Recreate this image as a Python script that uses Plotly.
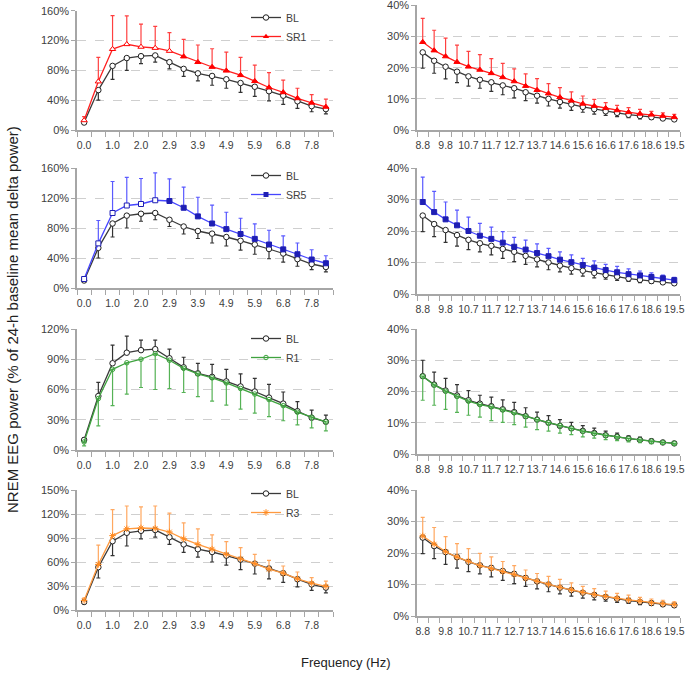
import plotly.graph_objects as go

# ---------------- data ----------------
freq_left = ["0.0", "0.5", "1.0", "1.5", "2.0", "2.4", "2.9", "3.4", "3.9", "4.4",
             "4.9", "5.4", "5.9", "6.3", "6.8", "7.3", "7.8", "8.3"]
freq_right = ["8.8", "9.3", "9.8", "10.3", "10.7", "11.2", "11.7", "12.2", "12.7", "13.2",
              "13.7", "14.2", "14.6", "15.1", "15.6", "16.1", "16.6", "17.1", "17.6", "18.1",
              "18.6", "19.0", "19.5"]

bl_left_mean = [10, 53.5, 86, 96.5, 99, 100, 91, 82, 76, 72.5, 68, 63, 58, 52, 46, 38.5, 32, 28]
bl_left_sem = [2, 13.5, 18, 16.5, 10, 9, 9, 10, 10, 12.5, 12, 12.5, 13, 13, 11.5, 9.5, 7.5, 6.5]
bl_right_mean = [24.9, 22.2, 20.3, 18.7, 17.2, 16.1, 15.3, 14.3, 13.4, 12.1, 11.0, 10.0, 9.0,
                 8.2, 7.4, 6.7, 6.0, 5.5, 4.9, 4.5, 4.1, 3.7, 3.4]
bl_right_sem = [5.1, 4.0, 3.9, 3.5, 3.1, 2.7, 2.9, 3.0, 3.1, 2.7, 2.4, 2.3, 2.0, 1.9, 1.7,
                1.6, 1.3, 1.2, 0.9, 0.9, 0.7, 0.5, 0.5]

sr1_left_mean = [13, 65, 108.5, 115, 111.5, 110, 106, 98.5, 91, 84.5, 79.5, 73.5, 65.5, 57, 50.5, 42.5, 36.5, 31]
sr1_left_sem = [5, 32.5, 45, 38, 30.5, 29, 24.5, 23, 23, 24.5, 25, 24, 21.5, 20, 16.5, 13.5, 11, 10.5]
sr1_left_sig = [False, False, False, False, False, False, False, True, True, True,
                True, True, True, True, True, True, True, True]
sr1_right_mean = [28.2, 25.5, 23.6, 21.8, 20.3, 19.3, 18.2, 16.9, 15.6, 14.1, 12.8, 11.7, 10.5,
                  9.4, 8.4, 7.7, 7.0, 6.3, 5.7, 5.2, 4.9, 4.5, 4.1]
sr1_right_sem = [7.6, 6.5, 5.9, 5.4, 4.9, 4.9, 4.7, 4.5, 4.0, 3.9, 3.7, 3.2, 3.1, 2.8, 2.5,
                 2.1, 1.8, 1.6, 1.5, 1.4, 1.1, 1.0, 0.9]

sr5_left_mean = [12, 59.5, 100, 110, 112, 117, 116, 107, 95.5, 86, 78.5, 72, 65.5, 58, 51.5, 45, 38, 33]
sr5_left_sem = [2.5, 30.5, 42, 37.5, 34, 36.5, 29.5, 27.5, 25.5, 24.5, 22.5, 21, 20, 19, 18, 15, 13, 10]
sr5_left_sig = [False, False, False, False, False, False, True, True, True, True,
                True, True, True, True, True, True, True, True]
sr5_right_mean = [29.2, 26.0, 23.7, 21.8, 20.0, 18.5, 17.5, 16.3, 15.0, 14.1, 13.0, 12.0, 10.9,
                  10.1, 9.2, 8.4, 7.6, 6.9, 6.3, 5.9, 5.4, 5.0, 4.4]
sr5_right_sem = [7.9, 6.6, 5.5, 4.8, 4.4, 3.9, 3.7, 3.5, 3.0, 3.0, 2.9, 2.5, 2.5, 2.3, 2.1,
                 2.1, 1.8, 1.9, 1.7, 1.4, 1.3, 1.0, 0.9]

r1_left_mean = [8, 51, 80, 86.5, 90, 95.5, 89, 81, 75.5, 71.5, 66.5, 61, 55.5, 50, 44, 37.5, 32.5, 28]
r1_left_sem = [4, 27, 36, 31, 28, 35.5, 28, 24, 22.5, 23, 22, 20.5, 19, 17, 15, 12.5, 10.5, 9]
r1_right_mean = [24.9, 22.1, 20.1, 18.4, 16.9, 15.8, 15.1, 14.1, 13.2, 12.1, 11.0, 10.0, 9.1,
                 8.2, 7.3, 6.6, 6.0, 5.5, 4.9, 4.5, 4.1, 3.7, 3.4]
r1_right_sem = [7.7, 6.5, 5.8, 5.1, 4.5, 4.0, 4.4, 4.0, 3.8, 3.5, 3.2, 2.7, 2.4, 2.0, 1.8,
                1.5, 1.4, 1.2, 1.0, 0.9, 0.8, 0.6, 0.5]

r3_left_mean = [12, 57, 93, 101.5, 102.5, 102, 97.5, 89, 82, 76, 69.5, 64, 58, 51, 46, 39, 33.5, 29.5]
r3_left_sem = [3, 24, 32.5, 28.5, 26.5, 28, 23.5, 20, 19.5, 18, 16, 14, 11.5, 11, 9, 8.5, 7, 6.5]
r3_right_mean = [25.4, 22.8, 20.4, 18.7, 17.4, 16.0, 15.1, 14.1, 13.2, 12.0, 11.0, 10.1, 9.1,
                 8.3, 7.5, 6.8, 6.2, 5.6, 5.1, 4.7, 4.2, 3.9, 3.6]
r3_right_sem = [5.9, 5.3, 4.8, 4.3, 4.0, 3.9, 3.7, 3.2, 2.8, 2.6, 2.5, 2.5, 2.5, 2.2, 1.9,
                1.9, 1.7, 1.6, 1.5, 1.2, 1.2, 1.1, 0.9]

# ---------------- styling ----------------
W, H = 685, 674
FONT = "Liberation Sans, Arial, sans-serif"
AX = "#a6a6a6"
GRID = "#cfcfcf"
TXT = "#404040"


def fx(px):  # pixel -> paper fraction (x)
    return min(1.0, max(0.0, px / W))


def fy(py):  # pixel -> paper fraction (y)
    return min(1.0, max(0.0, 1 - py / H))


BL_LINE = "#3a3a3a"
cond_styles = {
    "SR1": dict(line="#ff2020", marker="#ff0000", err="#ff4040", symbol="triangle-up", size=5.5),
    "SR5": dict(line="#4646ff", marker="#1e1eb4", err="#5a5aff", symbol="square", size=5),
    "R1": dict(line="#3fa33f", marker="#3fa33f", err="#55b255", symbol="circle-open", size=4.5),
    "R3": dict(line="#ff9a40", marker="#ff8a20", err="#ffa860", symbol="asterisk-open", size=5.5),
}

# rows: (cond name, left mean, left sem, right mean, right sem, left sig, bl direction,
#        ymax left, dtick left, legend top px)
rows = [
    ("SR1", sr1_left_mean, sr1_left_sem, sr1_right_mean, sr1_right_sem, sr1_left_sig, "down", 160, 40, 3),
    ("SR5", sr5_left_mean, sr5_left_sem, sr5_right_mean, sr5_right_sem, sr5_left_sig, "down", 160, 40, 161),
    ("R1", r1_left_mean, r1_left_sem, r1_right_mean, r1_right_sem, None, "up", 120, 30, 324),
    ("R3", r3_left_mean, r3_left_sem, r3_right_mean, r3_right_sem, None, "down", 150, 30, 479),
]

# panel pixel boxes: (top, bottom) for left and right columns
left_box = [(10.7, 130), (168, 288), (329, 450), (490, 610)]
right_box = [(5.3, 130), (168, 294), (329, 454), (490, 616)]
left_x = (77, 333)
right_x = (417, 680)


def err(sem, direction, color):
    zeros = [0] * len(sem)
    if direction == "up":
        return dict(type="data", symmetric=False, array=sem, arrayminus=zeros,
                    color=color, thickness=1.2, width=2)
    return dict(type="data", symmetric=False, array=zeros, arrayminus=sem,
                color=color, thickness=1.2, width=2)


fig = go.Figure()
layout = {}

for r, (name, lm, ls, rm, rs, sig, bl_dir, ymax, dt, leg_top) in enumerate(rows):
    st = cond_styles[name]
    cond_dir = "up" if bl_dir == "down" else "down"
    legname = "legend" if r == 0 else f"legend{r + 1}"
    for c in range(2):
        p = r * 2 + c + 1
        xa = "x" if p == 1 else f"x{p}"
        ya = "y" if p == 1 else f"y{p}"
        cats = freq_left if c == 0 else freq_right
        xi = list(range(len(cats)))
        blm = bl_left_mean if c == 0 else bl_right_mean
        bls = bl_left_sem if c == 0 else bl_right_sem
        cm = lm if c == 0 else rm
        cs = ls if c == 0 else rs

        # baseline
        fig.add_trace(go.Scatter(
            x=xi, y=blm, name="BL", mode="lines+markers", xaxis=xa, yaxis=ya,
            line=dict(color=BL_LINE, width=1.3),
            marker=dict(symbol="circle", size=5.5, color="white",
                        line=dict(color="#202020", width=1)),
            error_y=err(bls, bl_dir, "#333333"),
            showlegend=(c == 0), legend=legname,
            customdata=cats, hovertemplate="%{customdata} Hz: %{y}%<extra>BL</extra>"))

        # condition
        if "open" in st["symbol"]:
            mk = dict(symbol=st["symbol"], size=st["size"], color=st["marker"],
                      line=dict(color=st["marker"], width=1))
        else:
            if c == 0 and sig is not None:
                fills = [st["marker"] if s else "white" for s in sig]
            else:
                fills = st["marker"]
            mk = dict(symbol=st["symbol"], size=st["size"], color=fills,
                      line=dict(color=st["marker"], width=1))
        needs_proxy = (c == 0 and sig is not None)
        fig.add_trace(go.Scatter(
            x=xi, y=cm, name=name, mode="lines+markers", xaxis=xa, yaxis=ya,
            line=dict(color=st["line"], width=1.3), marker=mk,
            error_y=err(cs, cond_dir, st["err"]),
            showlegend=(c == 0 and not needs_proxy), legend=legname,
            customdata=cats, hovertemplate="%{customdata} Hz: %{y}%<extra>" + name + "</extra>"))
        if needs_proxy:
            fig.add_trace(go.Scatter(
                x=[None], y=[None], name=name, mode="lines+markers", xaxis=xa, yaxis=ya,
                line=dict(color=st["line"], width=1.3),
                marker=dict(symbol=st["symbol"], size=st["size"], color=st["marker"]),
                showlegend=True, legend=legname, hoverinfo="skip"))

        # axes
        box = (left_box if c == 0 else right_box)[r]
        xr = left_x if c == 0 else right_x
        ytop = ymax if c == 0 else 40
        ydt = dt if c == 0 else 10
        xkey = "xaxis" if p == 1 else f"xaxis{p}"
        ykey = "yaxis" if p == 1 else f"yaxis{p}"
        layout[xkey] = dict(
            domain=[fx(xr[0]), fx(xr[1])], anchor=ya, automargin=False,
            range=[-0.5, len(cats) - 0.5],
            tickmode="array", tickvals=xi[::2], ticktext=cats[::2],
            ticks="", showgrid=False, zeroline=False,
            showline=True, linecolor=AX, linewidth=1.5,
            tickfont=dict(family=FONT, size=10.5, color=TXT),
            ticklabelstandoff=5, ticklabeloverflow="allow",
            minor=dict(tickmode="linear", tick0=-0.5, dtick=1, ticks="outside",
                       ticklen=5, tickcolor=AX, tickwidth=1, showgrid=False),
        )
        layout[ykey] = dict(
            domain=[fy(box[1]), fy(box[0])], anchor=xa, automargin=False,
            range=[0, ytop], tickmode="linear", tick0=0, dtick=ydt,
            ticksuffix="%", ticks="outside", ticklen=4, tickcolor=AX,
            showline=True, linecolor=AX, linewidth=1.5,
            showgrid=True, gridcolor=GRID, griddash="dash", gridwidth=1,
            zeroline=False, ticklabeloverflow="allow",
            tickfont=dict(family=FONT, size=11, color=TXT),
        )

    layout[legname] = dict(
        x=fx(246), y=1 - leg_top / H, xanchor="left", yanchor="top",
        bgcolor="rgba(0,0,0,0)", font=dict(family=FONT, size=10.5, color=TXT),
        itemwidth=30, tracegroupgap=0,
    )

fig.update_layout(
    width=W, height=H, margin=dict(l=0, r=0, t=0, b=0, autoexpand=False),
    paper_bgcolor="white", plot_bgcolor="white",
    font=dict(family=FONT, color=TXT),
    **layout,
)

fig.add_annotation(text="Frequency (Hz)", xref="paper", yref="paper",
                   x=fx(346), y=fy(662), xanchor="center", yanchor="middle",
                   showarrow=False,
                   font=dict(family=FONT, size=13, color="#222222"))
fig.add_annotation(text="NREM EEG power (% of 24-h baseline mean delta power)",
                   xref="paper", yref="paper", x=fx(12), y=fy(320),
                   xanchor="center", yanchor="middle",
                   textangle=-90, showarrow=False,
                   font=dict(family=FONT, size=15, color="#222222"))

fig.write_html("out.html",
               config={"displayModeBar": False},
               post_script="document.body.style.margin='0px';"
                           "document.body.style.overflow='hidden';")
